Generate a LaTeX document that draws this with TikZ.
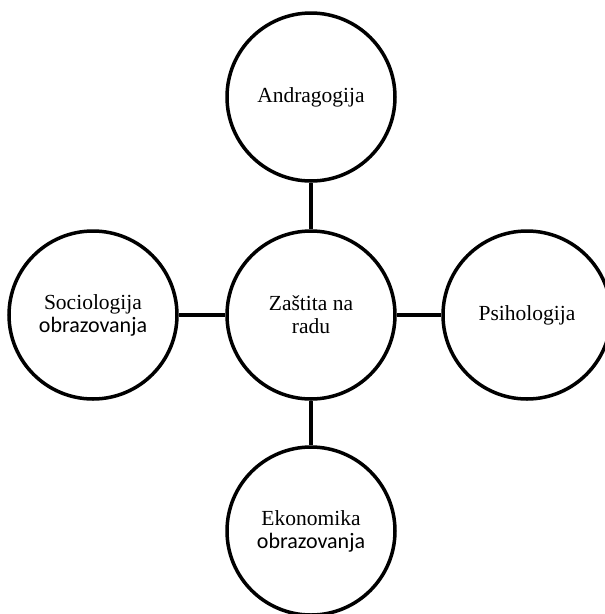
\documentclass[tikz,border=0pt]{standalone}
\usepackage{fontspec}
\setmainfont{Liberation Serif}
\newfontfamily\carlfont{Carlito}
\begin{document}
\begin{tikzpicture}[x=1pt,y=-1pt,
  topic/.style={circle,draw=black,line width=3.5pt,minimum size=168pt,inner sep=0pt,
    align=center,font=\fontsize{21.5}{23}\selectfont,fill=white},
  link/.style={line width=3.5pt,draw=black}]
\useasboundingbox (0,0) rectangle (605,614);
\clip (0,0) rectangle (605,614);
\node[topic] (mid) at (311,315) {Zaštita na\\radu};
\node[topic] (top) at (311,97) {Andragogija};
\node[topic] (left) at (93,315) {Sociologija\\{\carlfont\fontsize{22}{23}\selectfont obrazovanja}};
\node[topic] (right) at (527,315) {Psihologija};
\node[topic] (bot) at (311,531) {Ekonomika\\{\carlfont\fontsize{22}{23}\selectfont obrazovanja}};
\draw[link] (top) -- (mid);
\draw[link] (left) -- (mid);
\draw[link] (mid) -- (right);
\draw[link] (mid) -- (bot);
\end{tikzpicture}
\end{document}
